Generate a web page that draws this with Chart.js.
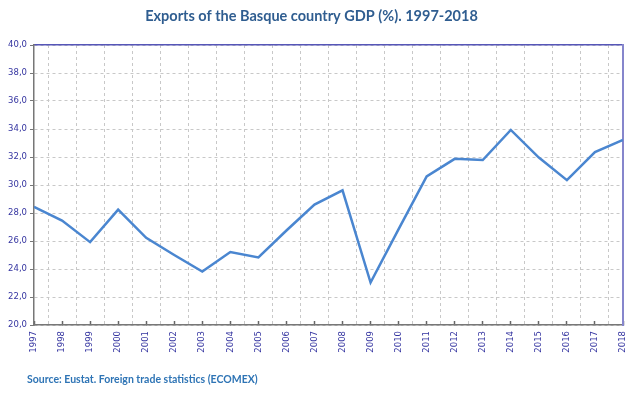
<!DOCTYPE html>
<html>
<head>
<meta charset="utf-8">
<script src="https://cdn.jsdelivr.net/npm/chart.js@4.4.1/dist/chart.umd.min.js"></script>
<style>
  html,body{margin:0;padding:0;background:#fff;}
  #wrap{position:relative;width:634px;height:399px;}
  #src{position:absolute;left:27px;top:373px;font:bold 10.5px Lato, "Open Sans", sans-serif;color:#2e74b5;white-space:nowrap;}
</style>
</head>
<body>
<div id="wrap">
<canvas id="c" width="634" height="399"></canvas>
<div id="src">Source: Eustat. Foreign trade statistics (ECOMEX)</div>
</div>
<script>
const years = [1997,1998,1999,2000,2001,2002,2003,2004,2005,2006,2007,2008,2009,2010,2011,2012,2013,2014,2015,2016,2017,2018];
const exportsShare = [28.44,27.46,25.92,28.24,26.23,25.0,23.82,25.21,24.83,26.75,28.6,29.62,23.03,26.85,30.61,31.87,31.78,33.93,31.96,30.35,32.35,33.22];
const yMin = 20, yMax = 40, yStep = 2;
const titleText = 'Exports of the Basque country GDP (%). 1997-2018';

const gridMid = years.slice(0,-1).map(y => y + 0.5);
const tickFont = {family:'"DejaVu Sans", Verdana, sans-serif', size:8.5};
const tickColor = '#3434a0';

new Chart(document.getElementById('c'), {
  type:'line',
  data:{
    datasets:[{
      data: years.map((y,i)=>({x:y,y:exportsShare[i]})),
      borderColor:'#4a86d0',
      borderWidth:2.5,
      pointRadius:0,
      tension:0,
      fill:false
    }]
  },
  options:{
    responsive:false,
    animation:false,
    layout:{padding:{left:0,right:11,top:0,bottom:0}},
    plugins:{
      legend:{display:false},
      tooltip:{enabled:false},
      title:{
        display:true,
        text:titleText,
        color:'#2f5d90',
        font:{family:'Lato, "Open Sans", sans-serif',size:14.5,weight:'bold'},
        padding:{top:8,bottom:19.6}
      }
    },
    scales:{
      x:{
        type:'linear',
        position:'bottom',
        min:years[0], max:years[years.length-1],
        afterBuildTicks:s=>{s.ticks = years.map(v=>({value:v}));},
        afterFit:s=>{s.height = 74; s.paddingLeft = 0; s.paddingRight = 0;},
        ticks:{
          color:tickColor,font:tickFont,maxRotation:90,minRotation:90,
          padding:10,autoSkip:false,
          callback:v=>String(v)
        },
        grid:{display:true,drawOnChartArea:false,drawTicks:true,tickLength:-4,tickColor:'#666666',tickWidth:1.5},
        border:{display:true,color:'#777777',width:1.5}
      },
      x2:{
        type:'linear',
        position:'bottom',
        min:years[0], max:years[years.length-1],
        afterBuildTicks:s=>{s.ticks = gridMid.map(v=>({value:v}));},
        afterFit:s=>{s.height = 0; s.paddingLeft = 0; s.paddingRight = 0;},
        ticks:{display:false},
        grid:{color:'#c8c8c8',drawTicks:false,lineWidth:1},
        border:{display:false,dash:[3,3]}
      },
      x3:{
        type:'linear',
        position:'top',
        min:years[0], max:years[years.length-1],
        afterFit:s=>{s.height = 0; s.paddingLeft = 0; s.paddingRight = 0;},
        ticks:{display:false},
        grid:{display:false,drawTicks:false},
        border:{display:true,color:'#5656b8',width:1.5}
      },
      y:{
        min:yMin,max:yMax,
        afterBuildTicks:s=>{const t=[];for(let v=yMin;v<=yMax+1e-9;v+=yStep)t.push({value:v});s.ticks=t;},
        afterFit:s=>{s.width = 34;},
        ticks:{
          color:tickColor,font:tickFont,padding:3,
          callback:v=>v.toFixed(1).replace('.',',')
        },
        grid:{color:'#c8c8c8',tickBorderDash:[],tickColor:'#777777',tickLength:4,lineWidth:1},
        border:{display:true,color:'#777777',width:1.5,dash:[3,3]}
      },
      y2:{
        position:'right',
        min:yMin,max:yMax,
        afterFit:s=>{s.width = 0;},
        ticks:{display:false},
        grid:{display:false,drawTicks:false},
        border:{display:true,color:'#8686cc',width:2}
      }
    }
  }
});
</script>
</body>
</html>
